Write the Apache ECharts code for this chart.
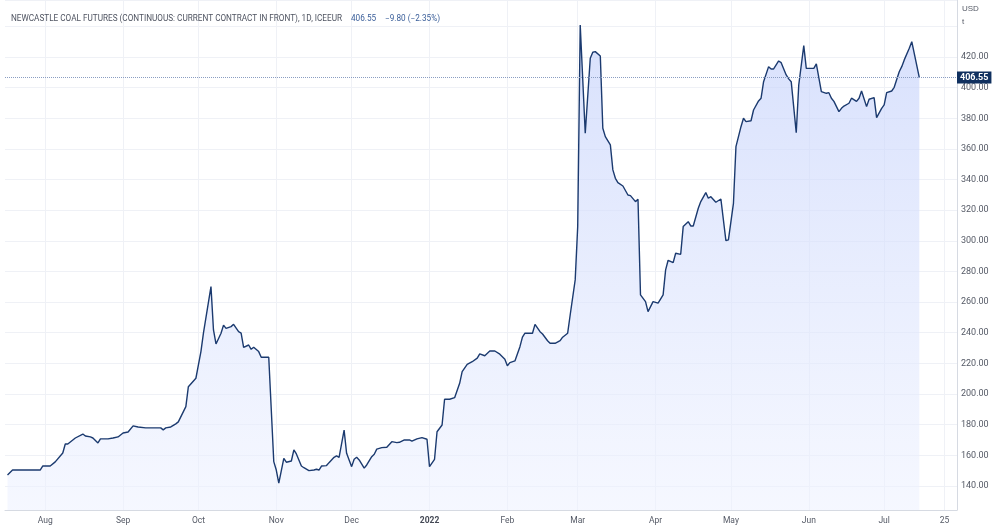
<!DOCTYPE html>
<html>
<head>
<meta charset="utf-8">
<script src="https://cdn.jsdelivr.net/npm/echarts@6/dist/echarts.min.js"></script>
<style>
  html, body { margin: 0; padding: 0; background: #fff; }
  #main { width: 1000px; height: 530px; }
</style>
</head>
<body>
<div id="main"></div>
<script>
var dates = [
  "2021-07-17","2021-07-19","2021-07-22","2021-07-26","2021-07-30","2021-07-31",
  "2021-08-03","2021-08-05","2021-08-08","2021-08-09","2021-08-10","2021-08-13","2021-08-16","2021-08-17",
  "2021-08-19","2021-08-20","2021-08-22","2021-08-23","2021-08-26","2021-08-28","2021-08-30",
  "2021-09-01","2021-09-03","2021-09-05","2021-09-07","2021-09-10","2021-09-13","2021-09-16","2021-09-17",
  "2021-09-18","2021-09-20","2021-09-22","2021-09-23","2021-09-26","2021-09-27","2021-09-30",
  "2021-10-01","2021-10-02","2021-10-03","2021-10-06","2021-10-07","2021-10-08","2021-10-10","2021-10-11",
  "2021-10-12","2021-10-14","2021-10-15","2021-10-17","2021-10-18","2021-10-19","2021-10-21","2021-10-22",
  "2021-10-23","2021-10-25","2021-10-26","2021-10-29","2021-10-31",
  "2021-11-01","2021-11-02","2021-11-04","2021-11-05","2021-11-07","2021-11-08","2021-11-09","2021-11-11",
  "2021-11-12","2021-11-14","2021-11-16","2021-11-17","2021-11-18","2021-11-19","2021-11-21","2021-11-22",
  "2021-11-24","2021-11-25","2021-11-26","2021-11-28","2021-11-29",
  "2021-12-01","2021-12-02","2021-12-03","2021-12-04","2021-12-06","2021-12-07","2021-12-09","2021-12-10",
  "2021-12-11","2021-12-13","2021-12-15","2021-12-17","2021-12-19","2021-12-20","2021-12-22","2021-12-24",
  "2021-12-25","2021-12-27","2021-12-29","2021-12-31",
  "2022-01-01","2022-01-03","2022-01-04","2022-01-06","2022-01-07","2022-01-09","2022-01-11","2022-01-13",
  "2022-01-14","2022-01-16","2022-01-18","2022-01-20","2022-01-21","2022-01-23","2022-01-25","2022-01-27",
  "2022-01-29","2022-01-31",
  "2022-02-01","2022-02-02","2022-02-04","2022-02-06","2022-02-07","2022-02-08","2022-02-11","2022-02-12",
  "2022-02-14","2022-02-15","2022-02-17","2022-02-18","2022-02-20","2022-02-22","2022-02-23","2022-02-25",
  "2022-02-26","2022-02-28",
  "2022-03-01","2022-03-02","2022-03-04","2022-03-06","2022-03-07","2022-03-08","2022-03-10","2022-03-11",
  "2022-03-12","2022-03-14","2022-03-15","2022-03-16","2022-03-17","2022-03-19","2022-03-21","2022-03-22",
  "2022-03-24","2022-03-25","2022-03-26","2022-03-28","2022-03-29","2022-03-31",
  "2022-04-02","2022-04-04","2022-04-05","2022-04-06","2022-04-08","2022-04-09","2022-04-11","2022-04-12",
  "2022-04-14","2022-04-15","2022-04-16","2022-04-18","2022-04-19","2022-04-21","2022-04-22","2022-04-23",
  "2022-04-25","2022-04-27","2022-04-29","2022-04-30",
  "2022-05-02","2022-05-03","2022-05-05","2022-05-06","2022-05-07","2022-05-09","2022-05-10","2022-05-12",
  "2022-05-13","2022-05-14","2022-05-16","2022-05-17","2022-05-18","2022-05-20","2022-05-21","2022-05-23",
  "2022-05-24","2022-05-25","2022-05-27","2022-05-28","2022-05-30","2022-05-31",
  "2022-06-02","2022-06-03","2022-06-04","2022-06-06","2022-06-08","2022-06-09","2022-06-10","2022-06-11",
  "2022-06-13","2022-06-14","2022-06-15","2022-06-17","2022-06-18","2022-06-20","2022-06-21","2022-06-22",
  "2022-06-24","2022-06-25","2022-06-27","2022-06-28","2022-06-30",
  "2022-07-01","2022-07-02","2022-07-04","2022-07-05","2022-07-07","2022-07-08","2022-07-09","2022-07-11",
  "2022-07-12","2022-07-15"
];
var prices = [
  147.2,150.4,150.4,150.4,150.4,153.0,
  153.0,155.7,161.5,167.4,167.4,171.3,173.9,172.6,
  172.0,171.3,168.1,170.7,170.7,171.3,172.0,
  174.6,175.2,179.2,178.5,177.9,177.9,177.9,176.6,
  177.9,178.5,180.5,181.8,191.8,204.8,210.3,
  219.0,227.7,239.7,270.1,241.8,232.7,239.7,245.0,
  242.9,244.0,245.5,240.7,239.7,230.5,232.0,229.2,
  230.5,227.7,224.0,224.0,155.9,
  150.4,141.8,158.0,155.5,156.3,163.5,160.9,153.0,
  151.9,150.0,150.4,150.9,150.4,153.0,153.3,155.2,
  158.7,159.6,158.7,176.5,161.3,
  152.6,157.4,158.7,157.0,151.6,153.7,159.1,160.7,
  164.0,165.0,165.3,168.9,168.3,168.5,170.0,170.0,
  169.2,170.7,171.5,170.5,
  152.6,157.4,175.4,179.8,196.6,196.6,197.6,207.0,
  214.6,219.4,221.1,223.4,226.2,225.0,228.1,228.1,
  226.0,222.7,
  218.5,220.5,221.6,230.9,237.1,239.7,239.7,245.5,
  240.7,239.2,234.8,233.1,233.1,234.8,237.1,239.7,
  251.6,274.5,
  309.3,440.9,370.2,419.2,423.1,423.5,420.7,373.5,
  368.0,362.6,346.3,340.8,338.0,335.8,329.9,329.5,
  325.6,327.1,264.7,260.3,253.8,260.3,
  259.3,264.7,281.0,287.3,285.8,291.9,291.2,309.3,
  312.5,309.7,309.7,321.3,325.6,331.5,327.8,328.8,
  325.2,327.3,300.1,300.6,
  324.5,361.5,374.5,380.0,377.8,378.4,385.4,391.3,
  393.1,403.9,413.7,412.2,412.2,417.4,416.3,408.3,
  405.7,403.9,370.6,401.7,427.4,412.6,
  412.6,412.6,415.5,397.4,396.3,396.7,393.1,391.0,
  384.3,386.5,388.0,389.8,393.1,391.0,393.1,397.8,
  387.6,392.4,393.5,380.4,386.5,
  388.7,396.7,397.8,400.2,410.4,413.7,418.1,425.7,
  430.0,406.55
];
var xTickDates = ["2021-08-01","2021-09-01","2021-10-01","2021-11-01","2021-12-01","2022-01-01",
  "2022-02-01","2022-03-01","2022-04-01","2022-05-01","2022-06-01","2022-07-01","2022-07-25"];
var xTickLabels = ["Aug","Sep","Oct","Nov","Dec","2022","Feb","Mar","Apr","May","Jun","Jul","25"];
var titleText = "NEWCASTLE COAL FUTURES (CONTINUOUS: CURRENT CONTRACT IN FRONT), 1D, ICEEUR";
var changeText = "\u22129.80 (\u22122.35%)";

// dates -> ms, the x axis is a plain value axis over these
function toTime(s) {
  var p = s.split("-");
  return Date.UTC(+p[0], +p[1] - 1, +p[2]);
}

var seriesData = [];
for (var i = 0; i < dates.length; i++) {
  seriesData.push([toTime(dates[i]), prices[i]]);
}
var tickTimes = xTickDates.map(toTime);
var lastPrice = prices[prices.length - 1];

var myChart = echarts.init(document.getElementById("main"));
var option = {
  animation: false,
  backgroundColor: "#ffffff",
  textStyle: { fontFamily: "Roboto, 'Liberation Sans', sans-serif" },
  title: {
    left: 6,
    top: 5,
    text: "{a|" + titleText + "}  {b|" + lastPrice.toFixed(2) + "}  {b|" + changeText + "}",
    textStyle: {
      fontWeight: "normal",
      rich: {
        a: { fontSize: 8.2, color: "#4f5461", fontWeight: "normal" },
        b: { fontSize: 8.2, color: "#3b5f9a", fontWeight: "normal" }
      }
    }
  },
  graphic: [
    { type: "text", left: 962, top: 5, style: { text: "USD", fontSize: 8, fill: "#555a66" } },
    { type: "text", left: 962, top: 18, style: { text: "t", fontSize: 8, fill: "#555a66" } }
  ],
  grid: { left: 5, right: 43, top: 0, bottom: 20, containLabel: false },
  xAxis: {
    type: "value",
    min: toTime("2021-07-16"),
    max: toTime("2022-07-30"),
    axisLine: { show: true, onZero: false, lineStyle: { color: "#d6dae2" } },
    axisTick: { show: false, customValues: tickTimes },
    axisLabel: {
      customValues: tickTimes,
      fontSize: 8.5,
      color: "#555a66",
      margin: 6,
      formatter: function (val) {
        var idx = tickTimes.indexOf(val);
        if (idx < 0) return "";
        return xTickLabels[idx] === "2022" ? "{y|2022}" : xTickLabels[idx];
      },
      rich: { y: { fontSize: 8.5, fontWeight: "bold", color: "#444955" } }
    },
    splitLine: { show: true, lineStyle: { color: "#eff1f6", width: 1 } }
  },
  yAxis: {
    type: "value",
    position: "right",
    min: 124.3,
    max: 457.2,
    splitNumber: 16,
    axisLine: { show: true, lineStyle: { color: "#d6dae2" } },
    axisTick: { show: false },
    axisLabel: {
      fontSize: 9,
      color: "#555a66",
      margin: 4,
      showMinLabel: false,
      showMaxLabel: false,
      formatter: function (v) {
        if (Math.abs(v % 20) > 0.001 || v > 430) return "";
        return v.toFixed(2);
      }
    },
    splitLine: { show: true, lineStyle: { color: "#eff1f6", width: 1 } }
  },
  series: [{
    type: "line",
    data: seriesData,
    showSymbol: false,
    symbol: "none",
    lineStyle: { color: "#1b3a6f", width: 1.4 },
    itemStyle: { color: "#1b3a6f" },
    areaStyle: {
      origin: "start",
      color: new echarts.graphic.LinearGradient(0, 0, 0, 1, [
        { offset: 0, color: "rgba(196,209,251,0.95)" },
        { offset: 1, color: "rgba(238,242,255,0.8)" }
      ])
    },
    markLine: {
      silent: true,
      symbol: "none",
      lineStyle: { color: "#8a9dc2", type: "dotted", width: 1 },
      label: {
        position: "end",
        distance: 0,
        formatter: lastPrice.toFixed(2),
        backgroundColor: "#10305f",
        color: "#ffffff",
        fontSize: 9,
        fontWeight: "bold",
        padding: [2, 3, 1, 3]
      },
      data: [{ yAxis: lastPrice }]
    }
  }]
};
myChart.setOption(option);
</script>
</body>
</html>
